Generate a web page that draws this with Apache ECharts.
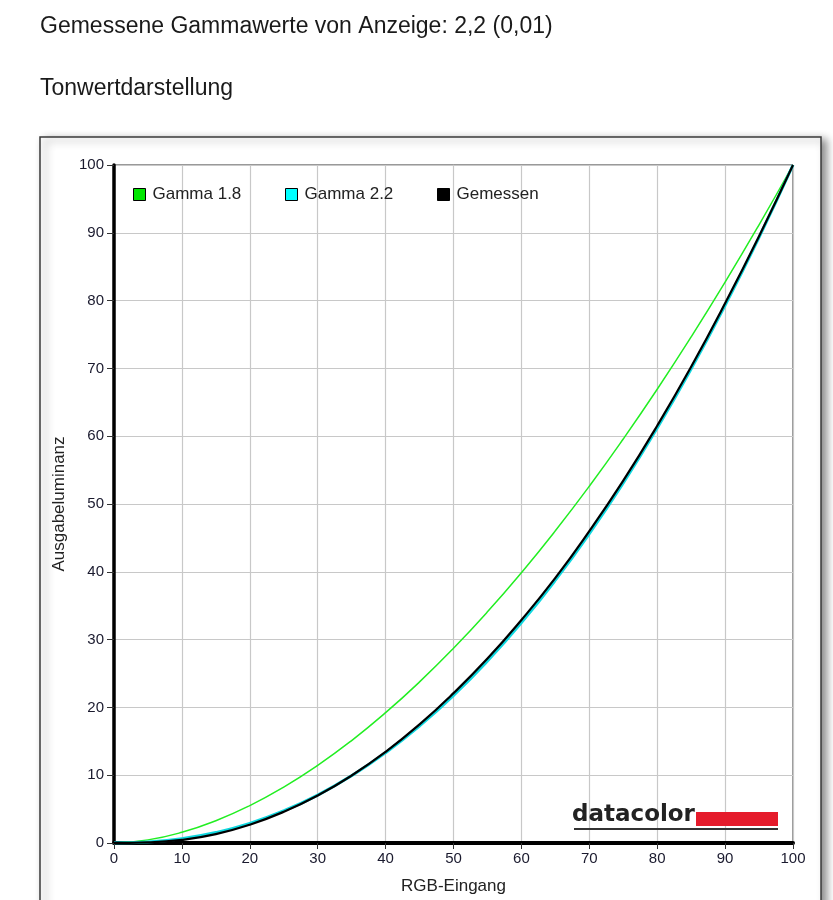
<!DOCTYPE html>
<html>
<head>
<meta charset="utf-8">
<script src="https://cdn.jsdelivr.net/npm/echarts@6/dist/echarts.min.js"></script>
<style>
html,body{margin:0;padding:0;background:#fff;}
#chart{width:833px;height:900px;}
</style>
</head>
<body>
<div id="chart"></div>
<script>
// RGB input (x) values
const rgbInput = [0,5,10,15,20,25,30,35,40,45,50,55,60,65,70,75,80,85,90,95,100];
// Output luminance
const gamma18 = [0,0.46,1.58,3.29,5.52,8.25,11.45,15.11,19.22,23.76,28.72,34.09,39.87,46.05,52.62,59.59,66.92,74.64,82.72,91.18,100];
const gamma22 = [0,0.14,0.63,1.54,2.90,4.74,7.07,9.93,13.32,17.26,21.76,26.84,32.50,38.76,45.63,53.11,61.21,69.94,79.31,89.33,100];
const measured = [0,0.08,0.45,1.30,2.70,4.60,7.00,9.95,13.45,17.50,22.10,27.20,32.90,39.10,46.00,53.45,61.55,70.25,79.60,89.50,100];
const seriesNames = ['Gamma 1.8','Gamma 2.2','Gemessen'];
const xTicks = [0,10,20,30,40,50,60,70,80,90,100];
const yTicks = [0,10,20,30,40,50,60,70,80,90,100];

const toPairs = arr => rgbInput.map((x,i)=>[x,arr[i]]);
const FONT = '"Liberation Sans", Arial, sans-serif';
const legendLefts = [133,285,437];

const chart = echarts.init(document.getElementById('chart'), null, {renderer:'canvas'});
chart.setOption({
  animation:false,
  backgroundColor:'#fff',
  title:[
    {text:'Gemessene Gammawerte von Anzeige: 2,2 (0,01)', left:40, top:15, padding:0,
     textStyle:{fontFamily:FONT,fontSize:23,fontWeight:'normal',color:'#1a1a1a'}},
    {text:'Tonwertdarstellung', left:40, top:77, padding:0,
     textStyle:{fontFamily:FONT,fontSize:23,fontWeight:'normal',color:'#1a1a1a'}}
  ],
  graphic:[
    {type:'rect', z:-10, shape:{x:40,y:137,width:781,height:820},
     style:{fill:'#fff',stroke:'#3a3a3a',lineWidth:1.5,shadowColor:'rgba(0,0,0,0.45)',shadowBlur:8,shadowOffsetX:5,shadowOffsetY:3}},
    {type:'text', z:20, left:572, top:804,
     style:{text:'datacolor',fontFamily:'"DejaVu Sans", '+FONT,fontSize:23,fontWeight:'bold',fill:'#222'}},
    {type:'rect', z:20, shape:{x:696,y:812,width:82,height:14}, style:{fill:'#e51b2b'}},
    {type:'rect', z:20, shape:{x:574,y:828,width:204,height:2}, style:{fill:'#333'}}
  ],
  legend:seriesNames.map((n,i)=>({
    data:[n], left:legendLefts[i], top:186, padding:0, icon:'rect', itemWidth:12, itemHeight:12,
    textStyle:{fontFamily:FONT,fontSize:17,color:'#222',padding:[0,0,0,2]},
    itemStyle:{borderColor:'#000',borderWidth:1}
  })),
  grid:{left:114,right:40,top:165,bottom:55,show:true,borderColor:'#333',borderWidth:1,backgroundColor:'transparent'},
  xAxis:{
    type:'value', min:0, max:100, interval:10,
    name:'RGB-Eingang', nameLocation:'middle', nameGap:35,
    nameTextStyle:{fontFamily:FONT,fontSize:17,color:'#222'},
    axisLine:{show:true,onZero:false,lineStyle:{color:'#000',width:4}},
    axisTick:{show:true,length:6,lineStyle:{color:'#333',width:1}},
    axisLabel:{fontFamily:FONT,fontSize:15,color:'#1a1a2e',margin:8,
      formatter:v=>xTicks.includes(v)?String(v):''},
    splitLine:{show:true,lineStyle:{color:'#c8c8c8',width:1.2}}
  },
  yAxis:{
    type:'value', min:0, max:100, interval:10,
    name:'Ausgabeluminanz', nameLocation:'middle', nameGap:43,
    nameTextStyle:{fontFamily:FONT,fontSize:17,color:'#222'},
    axisLine:{show:true,onZero:false,lineStyle:{color:'#000',width:3.5}},
    axisTick:{show:true,length:7,lineStyle:{color:'#333',width:1}},
    axisLabel:{fontFamily:FONT,fontSize:15,color:'#1a1a2e',margin:10,
      formatter:v=>yTicks.includes(v)?String(v):''},
    splitLine:{show:true,lineStyle:{color:'#c8c8c8',width:1.2}}
  },
  series:[
    {name:seriesNames[0], type:'line', data:toPairs(gamma18), smooth:true, showSymbol:false, z:3,
     itemStyle:{color:'#00e600'}, lineStyle:{color:'#22ee22',width:1.5}},
    {name:seriesNames[1], type:'line', data:toPairs(gamma22), smooth:true, showSymbol:false, z:4,
     itemStyle:{color:'#00ffff'}, lineStyle:{color:'#10d8e0',width:3}},
    {name:seriesNames[2], type:'line', data:toPairs(measured), smooth:true, showSymbol:false, z:5,
     itemStyle:{color:'#000'}, lineStyle:{color:'#000',width:2.2}}
  ]
});
</script>
</body>
</html>
